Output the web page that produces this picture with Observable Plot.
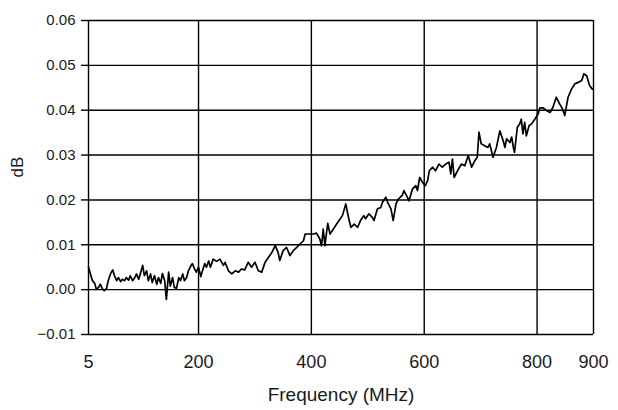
<!DOCTYPE html>
<html>
<head>
<meta charset="utf-8">
<script src="https://cdn.jsdelivr.net/npm/d3@7"></script>
<script src="https://cdn.jsdelivr.net/npm/@observablehq/plot@0.6"></script>
<style>
  html, body { margin: 0; padding: 0; background: #fff; }
</style>
</head>
<body>
<div id="chart"></div>
<script>
// Frequency (MHz) of each sample
const freq = [
  5, 8.5, 12, 16, 19, 23, 26, 30, 33, 37, 40, 44, 48, 51, 55, 58, 62, 65, 69, 72,
  76, 79, 83, 87, 90, 94, 97, 101, 104, 108, 111, 115, 118, 122, 126, 129, 133, 136, 140, 143,
  147, 150, 154, 157, 161, 165, 168, 172, 175, 179, 182, 186, 189, 193, 196, 200, 204, 207, 211, 214,
  218, 221,
  226, 232, 238, 244, 247, 253, 259, 265, 271, 276, 282, 288, 294, 300, 306, 312, 318, 324, 330, 336,
  341, 344, 350, 356, 362, 368, 374, 380, 386, 389, 395, 404, 409, 415, 418, 421, 424, 429, 433, 439,
  443, 449, 455, 461, 464, 467, 470, 476, 482, 487, 493, 496, 502, 508, 511, 517, 523, 526, 532, 535,
  541, 545, 550, 554, 561, 564, 570, 573, 579, 585, 588, 592, 597, 602, 606, 609, 615, 620, 626, 632,
  638, 644, 647, 650, 653, 659,
  666, 672, 678, 684, 690, 694, 697, 701, 707, 713, 716, 722, 728, 734, 740, 743, 746, 752, 755, 758,
  760, 765, 769, 772, 775, 778, 781, 786, 790, 796, 802, 805, 811, 817, 823, 828, 834, 840, 845, 849,
  855, 861, 867, 873, 879, 883, 888, 893, 898
];
// Measured deviation (dB)
const dB = [
  0.0050, 0.0035, 0.0020, 0.0014, 0.0001, 0.0005, 0.0012, 0.0001, -0.0002, 0.0003, 0.0020, 0.0035, 0.0044, 0.0031, 0.0020, 0.0027, 0.0018, 0.0023, 0.0020, 0.0027,
  0.0021, 0.0031, 0.0020, 0.0027, 0.0035, 0.0023, 0.0036, 0.0054, 0.0031, 0.0042, 0.0020, 0.0035, 0.0016, 0.0031, 0.0012, 0.0027, 0.0014, 0.0036, 0.0020, -0.0022,
  0.0039, 0.0008, 0.0027, 0.0005, 0.0003, 0.0027, 0.0020, 0.0035, 0.0020, 0.0027, 0.0042, 0.0052, 0.0058, 0.0046, 0.0039, 0.0050, 0.0029, 0.0042, 0.0058, 0.0050,
  0.0064, 0.0050,
  0.0068, 0.0063, 0.0068, 0.0054, 0.0061, 0.0042, 0.0035, 0.0042, 0.0039, 0.0046, 0.0044, 0.0061, 0.0050, 0.0061, 0.0042, 0.0039, 0.0061, 0.0072, 0.0083, 0.0098,
  0.0083, 0.0065, 0.0087, 0.0094, 0.0076, 0.0087, 0.0094, 0.0102, 0.0109, 0.0124, 0.0124, 0.0124, 0.0126, 0.0113, 0.0098, 0.0135, 0.0098, 0.0148, 0.0124, 0.0135,
  0.0143, 0.0154, 0.0165, 0.0191, 0.0172, 0.0154, 0.0139, 0.0146, 0.0139, 0.0154, 0.0165, 0.0158, 0.0169, 0.0161, 0.0154, 0.0180, 0.0183, 0.0195, 0.0206, 0.0195,
  0.0180, 0.0154, 0.0191, 0.0202, 0.0210, 0.0221, 0.0206, 0.0198, 0.0224, 0.0232, 0.0221, 0.0250, 0.0239, 0.0232, 0.0243, 0.0265, 0.0273, 0.0265, 0.0280, 0.0273,
  0.0280, 0.0284, 0.0258, 0.0291, 0.0250, 0.0265,
  0.0280, 0.0276, 0.0299, 0.0273, 0.0288, 0.0295, 0.0351, 0.0325, 0.0321, 0.0317, 0.0325, 0.0295, 0.0317, 0.0354, 0.0332, 0.0317, 0.0336, 0.0328, 0.0340, 0.0317,
  0.0306, 0.0362, 0.0369, 0.0380, 0.0347, 0.0373, 0.0343, 0.0366, 0.0369, 0.0380, 0.0392, 0.0405, 0.0405, 0.0399, 0.0395, 0.0406, 0.0429, 0.0414, 0.0403, 0.0388,
  0.0429, 0.0447, 0.0459, 0.0462, 0.0466, 0.0481, 0.0477, 0.0455, 0.0447
];
const xTicks = [5, 200, 400, 600, 800, 900];
const yTicks = [-0.01, 0.00, 0.01, 0.02, 0.03, 0.04, 0.05, 0.06];

const data = freq.map((f, i) => ({f, v: dB[i]}));

const chart = Plot.plot({
  width: 618,
  height: 410,
  marginLeft: 88,
  marginRight: 25,
  marginTop: 20,
  marginBottom: 76,
  style: {fontFamily: "'Liberation Sans', Arial, sans-serif", background: "#fff", color: "#1a1a1a"},
  x: {type: "linear", domain: [5, 900]},
  y: {type: "linear", domain: [-0.01, 0.06]},
  marks: [
    Plot.gridX(xTicks, {stroke: "#000", strokeOpacity: 1, strokeWidth: 1.4}),
    Plot.gridY(yTicks, {stroke: "#000", strokeOpacity: 1, strokeWidth: 1.4}),
    Plot.axisY(yTicks, {tickFormat: d3.format(".2f"), tickSize: 7, tickPadding: 6, fontSize: 15, stroke: "#000", strokeWidth: 1.4, label: null}),
    Plot.axisX(xTicks, {tickFormat: d => String(d), tickSize: 0, tickPadding: 21, fontSize: 18, label: null}),
    Plot.line(data, {x: "f", y: "v", stroke: "#000", strokeWidth: 1.7}),
    Plot.text(["Frequency (MHz)"], {frameAnchor: "bottom", dy: 66, fontSize: 19, fill: "#1a1a1a"}),
    Plot.text(["dB"], {frameAnchor: "left", dx: -71, rotate: -90, fontSize: 17, fill: "#1a1a1a"})
  ]
});
document.getElementById("chart").appendChild(chart);
</script>
</body>
</html>
